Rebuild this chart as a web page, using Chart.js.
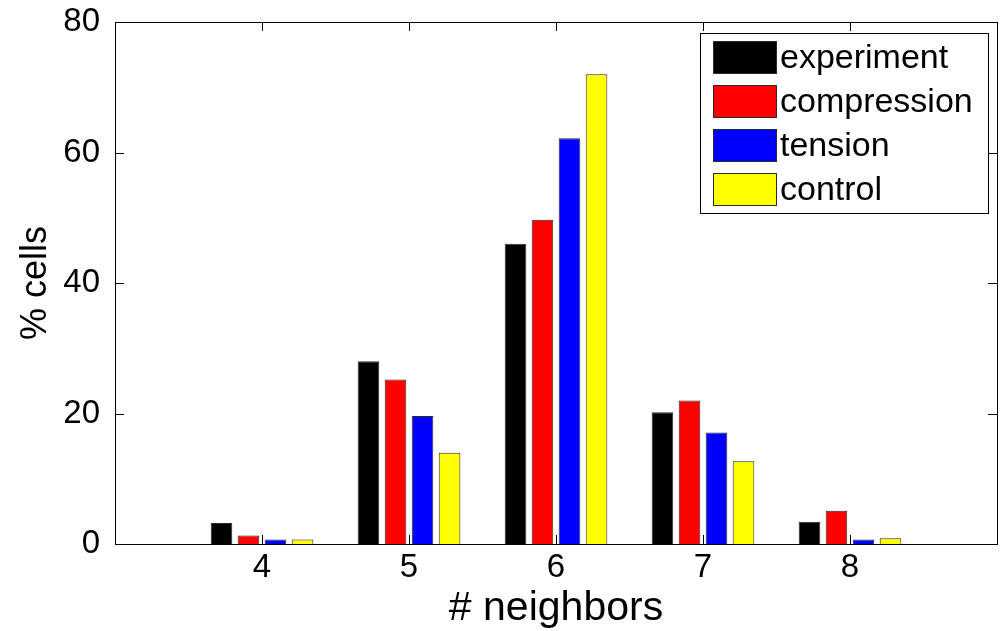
<!DOCTYPE html>
<html>
<head>
<meta charset="utf-8">
<script src="https://cdn.jsdelivr.net/npm/chart.js@4"></script>
<style>
  html, body { margin: 0; padding: 0; background: #fff; }
  #wrap { width: 1001px; height: 631px; }
</style>
</head>
<body>
<div id="wrap"><canvas id="myChart" width="1001" height="631"></canvas></div>
<script>
var neighbors = [4, 5, 6, 7, 8];
var experiment = [3.2, 28.0, 46.0, 20.2, 3.4];
var compression = [1.3, 25.2, 49.7, 22.0, 5.1];
var tension = [0.7, 19.6, 62.2, 17.1, 0.7];
var control = [0.7, 14.0, 72.0, 12.7, 0.9];
var yTicks = [0, 20, 40, 60, 80];

var seriesNames = ["experiment", "compression", "tension", "control"];
var seriesColors = ["#000000", "#ff0000", "#0000ff", "#ffff00"];
var seriesValues = [experiment, compression, tension, control];

var FONT = "Liberation Sans, Arial, Helvetica, sans-serif";

function points(vals) {
    return neighbors.map(function (n, i) { return { x: n, y: vals[i] }; });
}

var sets = [];
for (var i = 0; i < seriesNames.length; i++) {
    sets.push({
        label: seriesNames[i],
        data: points(seriesValues[i]),
        backgroundColor: seriesColors[i],
        borderColor: "#2a2a2a",
        borderWidth: 1,
        categoryPercentage: 0.735,
        barPercentage: 0.8
    });
}

// box, inward ticks on all four sides, and the legend inside the axes
var matlabAxes = {
    id: "matlabAxes",
    afterDatasetsDraw: function (chart) {
        var ctx = chart.ctx;
        var a = chart.chartArea;
        var xs = chart.scales.x, ys = chart.scales.y;
        var t = 9;
        ctx.save();
        ctx.strokeStyle = "#000";
        ctx.lineWidth = 1;
        ctx.beginPath();
        neighbors.forEach(function (n) {
            var px = Math.round(xs.getPixelForValue(n)) + 0.5;
            ctx.moveTo(px, a.bottom); ctx.lineTo(px, a.bottom - t);
            ctx.moveTo(px, a.top); ctx.lineTo(px, a.top + t);
        });
        yTicks.forEach(function (v) {
            var py = Math.round(ys.getPixelForValue(v)) + 0.5;
            ctx.moveTo(a.left, py); ctx.lineTo(a.left + t, py);
            ctx.moveTo(a.right, py); ctx.lineTo(a.right - t, py);
        });
        ctx.stroke();
        ctx.strokeRect(Math.round(a.left) + 0.5, Math.round(a.top) + 0.5,
            Math.round(a.right - a.left), Math.round(a.bottom - a.top));

        // legend
        var lx = 700.5, ly = 33.5, lw = 288, lh = 180;
        ctx.fillStyle = "#fff";
        ctx.fillRect(lx, ly, lw, lh);
        ctx.strokeRect(lx, ly, lw, lh);
        ctx.font = "34px " + FONT;
        ctx.textBaseline = "middle";
        ctx.textAlign = "left";
        for (var k = 0; k < seriesNames.length; k++) {
            var ry = 41 + k * 44;
            ctx.fillStyle = seriesColors[k];
            ctx.fillRect(713, ry, 64, 33);
            ctx.strokeStyle = "#2a2a2a";
            ctx.strokeRect(713.5, ry + 0.5, 63, 32);
            ctx.fillStyle = "#000";
            ctx.fillText(seriesNames[k], 780, ry + 18);
        }
        ctx.restore();
    }
};

new Chart("myChart", {
    type: "bar",
    data: { datasets: sets },
    plugins: [matlabAxes],
    options: {
        responsive: false,
        animation: false,
        layout: { padding: { left: 0, right: 4, top: 22, bottom: 0 } },
        plugins: {
            legend: { display: false },
            tooltip: { enabled: false }
        },
        scales: {
            x: {
                type: "linear",
                min: 3,
                max: 9,
                offset: false,
                grid: { display: false, offset: false },
                border: { display: false },
                afterBuildTicks: function (scale) {
                    scale.ticks = neighbors.map(function (n) { return { value: n }; });
                },
                afterFit: function (scale) {
                    scale.height = 87;
                    scale.paddingLeft = 0;
                    scale.paddingRight = 0;
                },
                ticks: {
                    color: "#000",
                    padding: -4,
                    maxRotation: 0,
                    font: { family: FONT, size: 33 }
                },
                title: {
                    display: true,
                    text: "# neighbors",
                    color: "#000",
                    padding: { top: 0, bottom: 0 },
                    font: { family: FONT, size: 41, lineHeight: 1.1 }
                }
            },
            y: {
                min: 0,
                max: 80,
                grid: { display: false },
                border: { display: false },
                afterBuildTicks: function (scale) {
                    scale.ticks = yTicks.map(function (v) { return { value: v }; });
                },
                afterFit: function (scale) {
                    scale.width = 115;
                    scale.paddingTop = 0;
                    scale.paddingBottom = 0;
                },
                ticks: {
                    color: "#000",
                    padding: 7,
                    font: { family: FONT, size: 33 }
                },
                title: {
                    display: true,
                    text: "% cells",
                    color: "#000",
                    padding: { top: 14, bottom: 0 },
                    font: { family: FONT, size: 36, lineHeight: 1.2 }
                }
            }
        }
    }
});
</script>
</body>
</html>
